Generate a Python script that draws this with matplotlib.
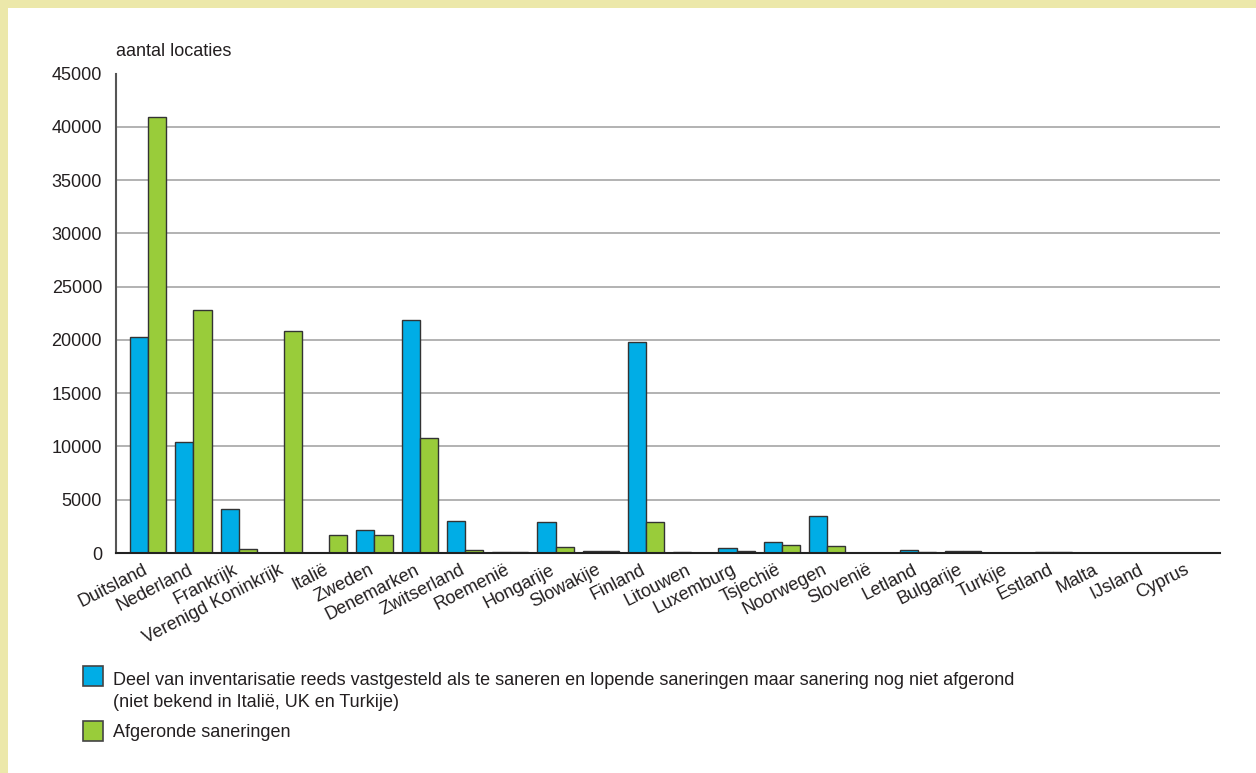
import matplotlib
matplotlib.use("Agg")
import matplotlib.pyplot as plt
from matplotlib.patches import Rectangle
from matplotlib.transforms import ScaledTranslation

# countries in the order of the chart
countries = ["Duitsland", "Nederland", "Frankrijk", "Verenigd Koninkrijk", "Italië",
             "Zweden", "Denemarken", "Zwitserland", "Roemenië", "Hongarije",
             "Slowakije", "Finland", "Litouwen", "Luxemburg", "Tsjechië",
             "Noorwegen", "Slovenië", "Letland", "Bulgarije", "Turkije",
             "Estland", "Malta", "IJsland", "Cyprus"]

# deel van inventarisatie, nog te saneren / lopend (blauw)
lopend = [20300, 10400, 4100, 0, 0, 2150, 21900, 3000, 80, 2950,
          200, 19800, 50, 450, 1000, 3450, 0, 250, 200, 0,
          50, 0, 0, 0]

# afgeronde saneringen (groen)
afgerond = [40900, 22800, 350, 20800, 1700, 1700, 10800, 250, 50, 600,
            150, 2950, 30, 220, 750, 700, 0, 70, 200, 0,
            50, 0, 0, 0]

yticks = [0, 5000, 10000, 15000, 20000, 25000, 30000, 35000, 40000, 45000]

legend_labels = [
    "Deel van inventarisatie reeds vastgesteld als te saneren en lopende saneringen maar sanering nog niet afgerond\n(niet bekend in Italië, UK en Turkije)",
    "Afgeronde saneringen",
]

BLUE = "#00ade6"
GREEN = "#99cc3a"
BEIGE = "#ece8aa"
TEXT = "#231f20"
FS = 13

plt.rcParams["font.family"] = ["Liberation Sans", "DejaVu Sans"]

W, H = 1256, 773
fig = plt.figure(figsize=(W / 100, H / 100), dpi=100)
fig.patch.set_facecolor(BEIGE)
# white panel inside the beige frame (frame only on top and left)
fig.patches.append(Rectangle((8 / W, 0), 1 - 8 / W, 1 - 8 / H, transform=fig.transFigure,
                             facecolor="white", edgecolor="none", zorder=-5))

ax = fig.add_axes([116 / W, (H - 553) / H, (1220 - 116) / W, (553 - 73.5) / H])
ax.set_zorder(2)
ax.set_facecolor("none")

x = list(range(len(countries)))
bw = 0.4
ax.bar([i - bw / 2 for i in x], lopend, width=bw, color=BLUE, edgecolor="#333333",
       linewidth=1.0, zorder=3)
ax.bar([i + bw / 2 for i in x], afgerond, width=bw, color=GREEN, edgecolor="#333333",
       linewidth=1.0, zorder=3)

ax.set_xlim(-0.71, 23.68)
ax.set_ylim(0, 45000)
ax.set_yticks(yticks)
ax.set_yticklabels([str(v) for v in yticks], fontsize=FS, color=TEXT)
for v in yticks[1:-1]:
    ax.axhline(v, color="#a6a6a6", linewidth=1.2, zorder=1)

ax.set_xticks(x)
ax.tick_params(axis="both", length=0)
ax.tick_params(axis="y", pad=10)
ax.tick_params(axis="x", pad=6)
ax.set_xticklabels(countries, rotation=27, ha="right", va="top",
                   rotation_mode="anchor", fontsize=FS, color=TEXT)
# nudge the country names a little to the left (after tick_params, which resets transforms)
shift = ScaledTranslation(-4 / 72, 0, fig.dpi_scale_trans)
for lab in ax.get_xticklabels():
    lab.set_transform(lab.get_transform() + shift)

for s in ["top", "right"]:
    ax.spines[s].set_visible(False)
ax.spines["left"].set_color("#555555")
ax.spines["left"].set_linewidth(1.5)
ax.spines["bottom"].set_color("#222222")
ax.spines["bottom"].set_linewidth(1.5)
ax.spines["bottom"].set_zorder(4)

fig.text(116 / W, 1 - 52 / H, "aantal locaties", fontsize=FS, color=TEXT,
         ha="left", va="center")

# legend drawn by hand: square boxes plus text
for (col, lab, ybox, ytxt) in [(BLUE, legend_labels[0], 666, 672),
                               (GREEN, legend_labels[1], 721, 724)]:
    fig.patches.append(Rectangle((83 / W, 1 - (ybox + 20) / H), 20 / W, 20 / H,
                                 transform=fig.transFigure, facecolor=col,
                                 edgecolor="#444444", linewidth=1.2, zorder=2))
    fig.text(113 / W, 1 - ytxt / H, lab, fontsize=FS, color=TEXT,
             ha="left", va="top", linespacing=1.35)

fig.savefig("out.png", dpi=100, facecolor=BEIGE)
